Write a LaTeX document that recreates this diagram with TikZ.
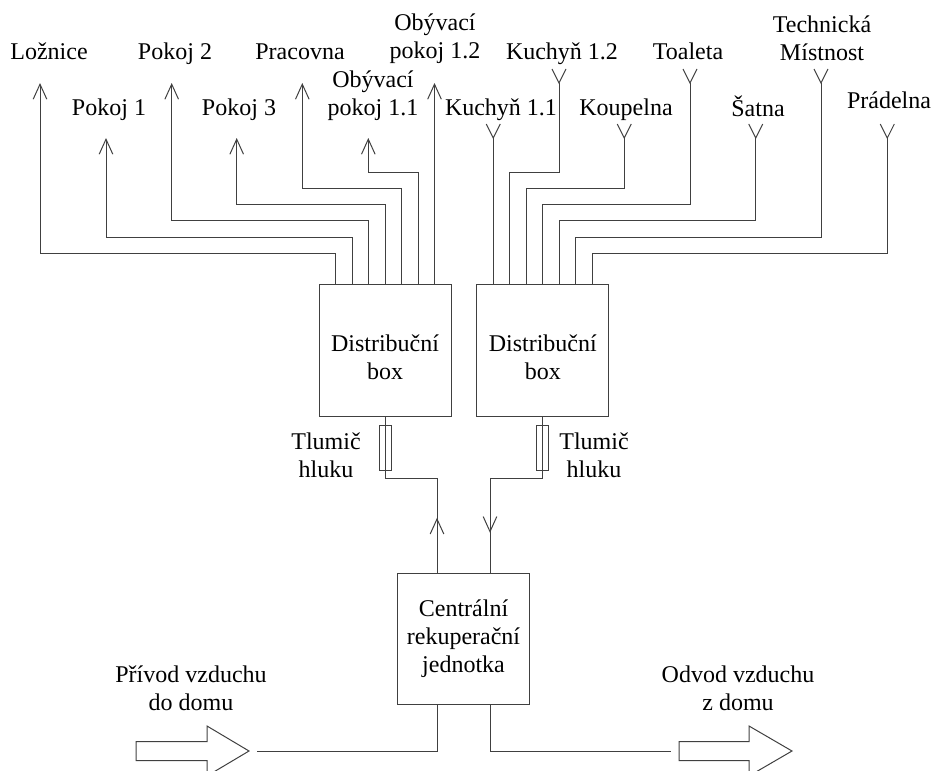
\documentclass[tikz,border=0pt]{standalone}
\usepackage{fontspec}
\setmainfont{Liberation Serif}
\usetikzlibrary{arrows.meta}
\begin{document}
\begin{tikzpicture}[x=0.5pt,y=-0.5pt,
  ln/.style={draw=black!75, line width=0.5pt},
  tipv/.style={-{Straight Barb[length=7.5pt,width=6.8pt]}},
  room/.style={font=\fontsize{12}{14}\selectfont, inner sep=0pt, anchor=base},
  room2/.style={font=\fontsize{12}{14}\selectfont, inner sep=0pt, align=center},
  boxnode/.style={draw=black!75, line width=0.5pt, minimum width=66pt, minimum height=66pt, align=center, font=\fontsize{12}{14}\selectfont, inner sep=0pt},
  silencer/.style={draw=black!75, line width=0.5pt, minimum width=6pt, minimum height=22.5pt, inner sep=0pt},
]
\useasboundingbox (0,0) rectangle (932,771);
\clip (0,0) rectangle (932,771);

% boxes
\node[boxnode] (bL) at (385,350) {\rule{0pt}{16pt}Distribuční\\box};
\node[boxnode] (bR) at (542.8,350) {\rule{0pt}{16pt}Distribuční\\box};
\node[boxnode, minimum height=65.5pt] (cu) at (463.5,638.8) {Centrální\\rekuperační\\jednotka};

% silencers
\node[silencer] (sL) at (385,447.5) {};
\node[silencer] (sR) at (542.8,447.5) {};
\node[room2] (tL) at (326,455) {Tlumič\\hluku};
\node[room2] (tR) at (594,455) {Tlumič\\hluku};

% room labels
\node[room] (r1) at (49,59) {Ložnice};
\node[room] (r2) at (109,115) {Pokoj 1};
\node[room] (r3) at (175,59) {Pokoj 2};
\node[room] (r4) at (239,115) {Pokoj 3};
\node[room] (r5) at (300,59) {Pracovna};
\node[room2] (r6) at (373,96) {Obývací\\pokoj 1.1};
\node[room2] (r7) at (435,39) {Obývací\\pokoj 1.2};
\node[room] (r8) at (501,115) {Kuchyň 1.1};
\node[room] (r9) at (562,59) {Kuchyň 1.2};
\node[room] (r10) at (626,115) {Koupelna};
\node[room] (r11) at (688,59) {Toaleta};
\node[room] (r12) at (758,116) {Šatna};
\node[room2] (r13) at (822,38) {Technická\\Místnost};
\node[room] (r14) at (889,108) {Prádelna};

% duct ends
\coordinate (t1) at (40,83);
\coordinate (t2) at (106,138);
\coordinate (t3) at (171.7,83);
\coordinate (t4) at (236.7,138);
\coordinate (t5) at (302.3,83);
\coordinate (t6) at (368.3,138);
\coordinate (t7) at (434.5,83);
\coordinate (t8) at (493.3,138);
\coordinate (t9) at (559,83);
\coordinate (t10) at (624.3,138);
\coordinate (t11) at (690,83);
\coordinate (t12) at (755.7,138);
\coordinate (t13) at (821,83);
\coordinate (t14) at (887.3,138);

% supply ducts (left box)
\draw[ln,tipv] ([xshift=-24.75pt]bL.north) -- ++(0,-30) -| (t1);
\draw[ln,tipv] ([xshift=-16.5pt]bL.north) -- ++(0,-46.3) -| (t2);
\draw[ln,tipv] ([xshift=-8.25pt]bL.north) -- ++(0,-62.6) -| (t3);
\draw[ln,tipv] (bL.north) -- ++(0,-78.9) -| (t4);
\draw[ln,tipv] ([xshift=8.25pt]bL.north) -- ++(0,-95.2) -| (t5);
\draw[ln,tipv] ([xshift=16.5pt]bL.north) -- ++(0,-111.5) -| (t6);
\draw[ln,tipv] ([xshift=24.75pt]bL.north) -- (t7);

% extract ducts (right box)
\draw[ln] ([xshift=-24.75pt]bR.north) -- (t8);
\draw[ln] ([xshift=-16.5pt]bR.north) -- ++(0,-111.5) -| (t9);
\draw[ln] ([xshift=-8.25pt]bR.north) -- ++(0,-95.2) -| (t10);
\draw[ln] (bR.north) -- ++(0,-78.9) -| (t11);
\draw[ln] ([xshift=8.25pt]bR.north) -- ++(0,-62.6) -| (t12);
\draw[ln] ([xshift=16.5pt]bR.north) -- ++(0,-46.3) -| (t13);
\draw[ln] ([xshift=24.75pt]bR.north) -- ++(0,-30) -| (t14);
\foreach \t in {t8,t9,t10,t11,t12,t13,t14}
  \draw[ln] ([shift={(-7,-14)}]\t) -- (\t) -- ([shift={(7,-14)}]\t);

% boxes to central unit
\draw[ln] (bL.south) -- ++(0,62) -| ([xshift=-13.25pt]cu.north);
\draw[ln,tipv] ([xshift=-13.25pt]cu.north) -- ++(0,-55);
\draw[ln] (bR.south) -- ++(0,62) -| ([xshift=13.25pt]cu.north);
\draw[ln,tipv] ([xshift=13.25pt,yshift=47.5pt]cu.north) -- ++(0,55);

% outside air
\coordinate (ain) at (257,751);
\coordinate (aout) at (671,751);
\draw[ln] (ain) -| ([xshift=-13.25pt]cu.south);
\draw[ln] ([xshift=13.25pt]cu.south) |- (aout);
\draw[ln] (136,741.5) -- (207,741.5) -- (207,726) -- (249,751) -- (207,776) -- (207,760.5) -- (136,760.5) -- cycle;
\draw[ln] (679,741.5) -- (749,741.5) -- (749,726) -- (792,751) -- (749,776) -- (749,760.5) -- (679,760.5) -- cycle;
\node[room2] (in) at (191,688) {Přívod vzduchu\\do domu};
\node[room2] (out) at (738,688) {Odvod vzduchu\\z domu};
\end{tikzpicture}
\end{document}
